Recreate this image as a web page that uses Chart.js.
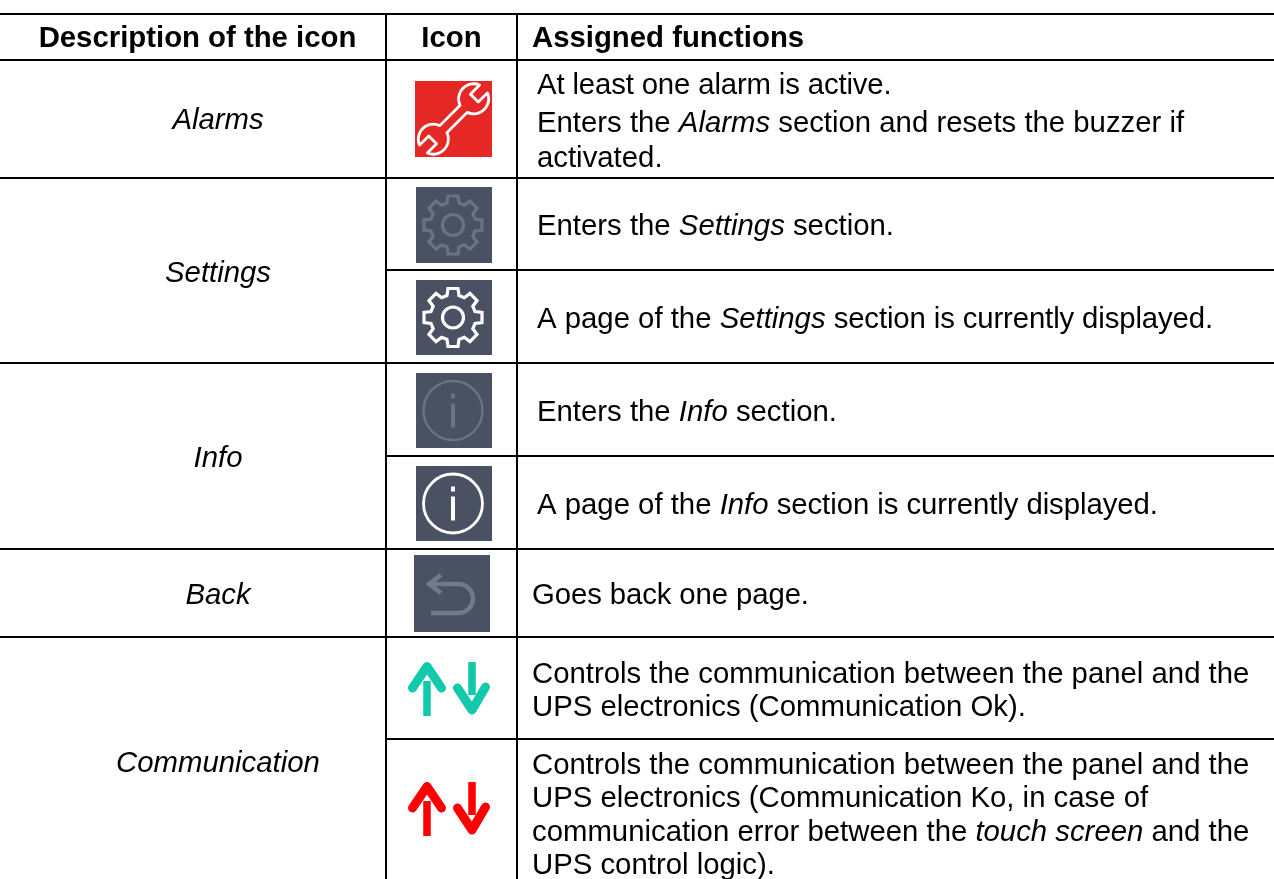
<!DOCTYPE html>
<html>
<head>
<meta charset="utf-8">
<title>Icons</title>
<script src="https://cdn.jsdelivr.net/npm/chart.js@4"></script>
<style>
    html, body { margin: 0; padding: 0; background: #fff; }
    canvas { display: block; }
</style>
</head>
<body>
<canvas id="tableChart" width="1274" height="879"></canvas>
<script>
// Table content. *text* means italic
const headers = ["Description of the icon", "Icon", "Assigned functions"];
const descriptions = ["Alarms", "Settings", "Info", "Back", "Communication"];
const functionLines = [
    ["At least one alarm is active.", "Enters the *Alarms* section and resets the buzzer if", "activated."],
    ["Enters the *Settings* section."],
    ["A page of the *Settings* section is currently displayed."],
    ["Enters the *Info* section."],
    ["A page of the *Info* section is currently displayed."],
    ["Goes back one page."],
    ["Controls the communication between the panel and the", "UPS electronics (Communication Ok)."],
    ["Controls the communication between the panel and the", "UPS electronics (Communication Ko, in case of", "communication error between the *touch screen* and the", "UPS control logic)."]
];
const iconKinds = ["wrench", "gearDim", "gear", "infoDim", "info", "back", "arrowsOk", "arrowsKo"];

// Layout of the table, in page pixels
const PAGE_W = 1274, PAGE_H = 879;
const colLines = [386, 517];
const fullRowLines = [14, 60, 178, 363, 549, 637];
const innerRowLines = [270, 456, 739];
const headX = [197.5, 451.5, 532];
const headBase = 47;
const descX = 218;
const descBase = [129, 282, 467, 604, 772];
const funcX = [537, 537, 537, 537, 537, 532, 532, 532];
const funcBase = [[94, 132, 167], [235], [328], [421], [514], [604], [683, 716], [774, 807, 841, 874]];
// small letter spacing on the last run of some lines, to match their width
const lineTrack = { "0.0": -0.14, "2.0": -0.12, "4.0": -0.06, "5.0": -0.1 };
const iconBoxes = [[415, 81, 77, 76], [416, 187, 76, 76], [416, 280, 76, 75], [416, 373, 76, 75], [416, 466, 76, 75], [414, 555, 76, 77], [408, 662, 82, 54], [408, 782, 82, 54]];

const FONT = '"Liberation Sans", Arial, sans-serif';
const BODY_SIZE = 29.33;

// One line dataset per table rule
const ruleDatasets = [];
function addRule(x1, y1, x2, y2) {
    ruleDatasets.push({
        data: [{ x: x1, y: y1 }, { x: x2, y: y2 }],
        borderColor: "#000000",
        borderWidth: 2,
        pointRadius: 0,
        fill: false
    });
}
fullRowLines.forEach(y => addRule(0, y, PAGE_W, y));
innerRowLines.forEach(y => addRule(colLines[0], y, PAGE_W, y));
colLines.forEach(x => addRule(x, 14, x, PAGE_H));

// Draws a line of text with *italic* parts, left aligned
function drawRich(ctx, text, x, y, size, weight, track) {
    const parts = text.split("*");
    ctx.textBaseline = "alphabetic";
    ctx.textAlign = "left";
    let cx = x;
    parts.forEach((part, i) => {
        ctx.font = (i % 2 ? "italic " : "") + weight + " " + size + "px " + FONT;
        ctx.letterSpacing = (i === parts.length - 1 && track ? track : 0) + "px";
        ctx.fillText(part, cx, y);
        cx += ctx.measureText(part).width;
    });
    ctx.letterSpacing = "0px";
}

function drawCentered(ctx, text, x, y, font) {
    ctx.textBaseline = "alphabetic";
    ctx.textAlign = "center";
    ctx.font = font;
    ctx.fillText(text, x, y);
}

// Gear outline with eight square teeth around (cx, cy)
function gearPath(ctx, cx, cy) {
    const outer = 29, root = 22, teeth = 8;
    const pts = [[-6, root], [-5, outer], [5, outer], [6, root]];
    ctx.beginPath();
    for (let i = 0; i < teeth; i++) {
        const a = i * 2 * Math.PI / teeth;
        pts.forEach(p => {
            ctx.lineTo(cx + p[0] * Math.cos(a) + p[1] * Math.sin(a), cy + p[0] * Math.sin(a) - p[1] * Math.cos(a));
        });
    }
    ctx.closePath();
    ctx.stroke();
    ctx.beginPath();
    ctx.arc(cx, cy, 10.5, 0, 2 * Math.PI);
    ctx.stroke();
}

function drawSquare(ctx, box, color) {
    ctx.fillStyle = color;
    ctx.fillRect(box.x, box.y, box.w, box.h);
}

function drawGear(ctx, box, color) {
    drawSquare(ctx, box, "#495162");
    ctx.strokeStyle = color;
    ctx.lineWidth = 3.2;
    ctx.lineJoin = "miter";
    gearPath(ctx, box.x + 37, box.y + box.h / 2);
}

function drawInfo(ctx, box, color, width) {
    drawSquare(ctx, box, "#495162");
    const cx = box.x + 37, cy = box.y + box.h / 2;
    ctx.strokeStyle = color;
    ctx.fillStyle = color;
    ctx.lineWidth = width;
    ctx.beginPath();
    ctx.arc(cx, cy, 29.5, 0, 2 * Math.PI);
    ctx.stroke();
    ctx.fillRect(cx - 2, cy - 17, 4, 5);
    ctx.fillRect(cx - 2, cy - 7, 4, 24);
}

function drawWrench(ctx, box) {
    drawSquare(ctx, box, "#E52825");
    ctx.save();
    ctx.translate(box.x + box.w / 2, box.y + box.h / 2);
    ctx.rotate(-Math.PI / 4);
    ctx.strokeStyle = "#ffffff";
    ctx.lineWidth = 2.8;
    ctx.lineJoin = "round";
    const r = 15, jaw = 5.5, neck = 5, c = 28.5, depth = 1;
    const neckA = Math.asin(neck / r);
    const jawA = Math.asin(jaw / r);
    ctx.beginPath();
    // upper right head, open outwards
    ctx.arc(c, 0, r, Math.PI + neckA, 2 * Math.PI - jawA);
    ctx.lineTo(c + depth, -jaw);
    ctx.lineTo(c + depth, jaw);
    ctx.lineTo(c + r * Math.cos(jawA), jaw);
    ctx.arc(c, 0, r, jawA, Math.PI - neckA);
    // lower left head, open outwards
    ctx.arc(-c, 0, r, neckA, Math.PI - jawA);
    ctx.lineTo(-c - depth, jaw);
    ctx.lineTo(-c - depth, -jaw);
    ctx.lineTo(-c - r * Math.cos(jawA), -jaw);
    ctx.arc(-c, 0, r, Math.PI + jawA, 2 * Math.PI - neckA);
    ctx.closePath();
    ctx.stroke();
    ctx.restore();
}

function drawBack(ctx, box) {
    drawSquare(ctx, box, "#495162");
    const x = box.x, y = box.y;
    ctx.strokeStyle = "#727A8A";
    ctx.lineWidth = 4.5;
    ctx.lineJoin = "miter";
    ctx.beginPath();
    ctx.moveTo(x + 27, y + 20);
    ctx.lineTo(x + 15, y + 29);
    ctx.lineTo(x + 27, y + 38);
    ctx.stroke();
    ctx.beginPath();
    ctx.moveTo(x + 15, y + 29);
    ctx.lineTo(x + 44.5, y + 29);
    ctx.arc(x + 44.5, y + 43.5, 14.5, -Math.PI / 2, Math.PI / 2);
    ctx.lineTo(x + 17, y + 58);
    ctx.stroke();
}

function drawArrows(ctx, box, color) {
    const x = box.x, y = box.y;
    ctx.strokeStyle = color;
    ctx.lineJoin = "round";
    // stems
    ctx.lineWidth = 7.5;
    ctx.beginPath();
    ctx.moveTo(x + 19, y + 19);
    ctx.lineTo(x + 19, y + 54);
    ctx.moveTo(x + 64, y);
    ctx.lineTo(x + 64, y + 33);
    ctx.stroke();
    // heads
    ctx.lineWidth = 9;
    ctx.lineCap = "round";
    ctx.beginPath();
    ctx.moveTo(x + 4.5, y + 26);
    ctx.lineTo(x + 19, y + 4.5);
    ctx.lineTo(x + 33.5, y + 26);
    ctx.moveTo(x + 49.5, y + 26);
    ctx.lineTo(x + 64, y + 48);
    ctx.lineTo(x + 77.5, y + 25);
    ctx.stroke();
    ctx.lineCap = "butt";
}

const tablePlugin = {
    id: "tablePlugin",
    afterDatasetsDraw(chart) {
        const ctx = chart.ctx;
        const sx = chart.scales.x, sy = chart.scales.y;
        ctx.save();
        ctx.fillStyle = "#000000";

        // header row
        const headFont = "bold " + BODY_SIZE + "px " + FONT;
        drawCentered(ctx, headers[0], sx.getPixelForValue(headX[0]), sy.getPixelForValue(headBase), headFont);
        drawCentered(ctx, headers[1], sx.getPixelForValue(headX[1]), sy.getPixelForValue(headBase), headFont);
        drawRich(ctx, headers[2], sx.getPixelForValue(headX[2]), sy.getPixelForValue(headBase), BODY_SIZE, "bold");

        // first column
        descriptions.forEach((d, i) => {
            drawCentered(ctx, d, sx.getPixelForValue(descX), sy.getPixelForValue(descBase[i]), "italic " + BODY_SIZE + "px " + FONT);
        });

        // last column
        functionLines.forEach((lines, i) => {
            lines.forEach((line, j) => {
                drawRich(ctx, line, sx.getPixelForValue(funcX[i]), sy.getPixelForValue(funcBase[i][j]), BODY_SIZE, "normal", lineTrack[i + "." + j]);
            });
        });

        // icons, a little soft like the scaled bitmaps in the original
        ctx.filter = "blur(0.5px)";
        iconKinds.forEach((kind, i) => {
            const b = iconBoxes[i];
            const box = {
                x: sx.getPixelForValue(b[0]),
                y: sy.getPixelForValue(b[1]),
                w: sx.getPixelForValue(b[0] + b[2]) - sx.getPixelForValue(b[0]),
                h: sy.getPixelForValue(b[1] + b[3]) - sy.getPixelForValue(b[1])
            };
            if (kind === "wrench") drawWrench(ctx, box);
            if (kind === "gearDim") drawGear(ctx, box, "#6B7383");
            if (kind === "gear") drawGear(ctx, box, "#ffffff");
            if (kind === "infoDim") drawInfo(ctx, box, "#6B7383", 2.4);
            if (kind === "info") drawInfo(ctx, box, "#ffffff", 2.8);
            if (kind === "back") drawBack(ctx, box);
            if (kind === "arrowsOk") drawArrows(ctx, box, "#12C9AC");
            if (kind === "arrowsKo") drawArrows(ctx, box, "#FF0000");
        });
        ctx.filter = "none";
        ctx.restore();
    }
};

new Chart(document.getElementById("tableChart").getContext("2d"), {
    type: "line",
    data: { datasets: ruleDatasets },
    options: {
        responsive: false,
        animation: false,
        layout: { padding: 0 },
        parsing: false,
        plugins: { legend: { display: false }, tooltip: { enabled: false } },
        scales: {
            x: { type: "linear", display: false, min: 0, max: PAGE_W },
            y: { type: "linear", display: false, min: 0, max: PAGE_H, reverse: true }
        }
    },
    plugins: [tablePlugin]
});
</script>
</body>
</html>
